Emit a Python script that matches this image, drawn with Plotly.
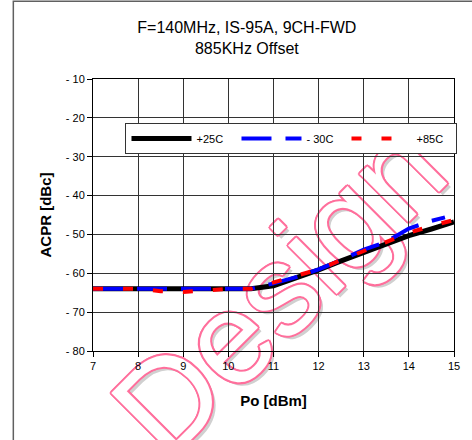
import plotly.graph_objects as go

# ---- data ----
po_dbm = [7, 7.5, 8, 8.5, 9, 9.5, 10, 10.5, 11, 11.5, 12, 12.5, 13, 13.5, 14, 14.5, 15]
acpr_p25 = [-64, -64, -64, -64, -64, -64, -64, -64, -63.2, -61.2, -59.1, -56.8, -54.6, -52.3, -50.3, -48.6, -46.8]

po_dbm_m30 = [7, 7.5, 8, 8.5, 9, 9.5, 10, 10.5, 11, 11.5, 12, 12.5, 13, 13.5, 14, 14.5, 14.8]
acpr_m30 = [-64, -64, -64, -64, -64, -64, -64, -64, -62.6, -61.0, -59.0, -56.6, -53.9, -51.9, -48.5, -46.5, -45.6]

acpr_p85 = [-64, -64, -64, -64.6, -64.8, -64.4, -64, -64, -62.4, -60.8, -59.0, -56.6, -54.2, -52.0, -49.6, -47.8, -46.3]

series_names = ["+25C", "- 30C", "+85C"]

x_ticks = [7, 8, 9, 10, 11, 12, 13, 14, 15]
y_ticks = [-80, -70, -60, -50, -40, -30, -20, -10]
y_ticktext = ["- 80", "- 70", "- 60", "- 50", "- 40", "- 30", "- 20", "- 10"]

title_text = "F=140MHz, IS-95A, 9CH-FWD<br>885KHz Offset"
x_title = "Po [dBm]"
y_title = "ACPR [dBc]"
watermark = "Design"

FONT = "Liberation Sans, Arial, sans-serif"

fig = go.Figure()
fig.add_trace(go.Scatter(x=po_dbm, y=acpr_p25, mode="lines", name=series_names[0],
                         line=dict(color="#000000", width=5)))
fig.add_trace(go.Scatter(x=po_dbm_m30, y=acpr_m30, mode="lines", name=series_names[1],
                         line=dict(color="#0000ff", width=4, dash="30px,14px")))
fig.add_trace(go.Scatter(x=po_dbm, y=acpr_p85, mode="lines", name=series_names[2],
                         line=dict(color="#ff0000", width=4, dash="10px,20px")))

pink = "#ff6f9c"
shadow = ", ".join([f"{pink} {dx}px {dy}px 0" for dx, dy in
                    [(2, 0), (-2, 0), (0, 2), (0, -2), (1.5, 1.5), (-1.5, 1.5), (1.5, -1.5), (-1.5, -1.5)]]
                   + ["#d0d0d0 0px 5px 0"])

# outer chart-area frame (Excel style)
fig.add_shape(type="rect", xref="paper", yref="paper",
              x0=-0.2207, x1=1.2, y0=-0.5, y1=1.286,
              line=dict(color="#606060", width=1.5), fillcolor="rgba(0,0,0,0)", layer="below")

# watermark
fig.add_shape(type="rect", xref="paper", yref="paper",
              x0=0.39, x1=0.59, y0=0.16, y1=0.36,
              line=dict(width=0), fillcolor="rgba(0,0,0,0)", layer="below",
              label=dict(text=watermark, textangle=-45, textposition="middle center",
                         font=dict(family="Liberation Sans, Arial", size=130,
                                   color="#ffffff", shadow=shadow)))

fig.update_layout(
    width=472, height=440,
    margin=dict(l=93, r=12, t=79, b=89),
    paper_bgcolor="white", plot_bgcolor="white",
    font=dict(family=FONT, color="black", size=11),
    title=dict(text=title_text, x=0.523, xref="container", xanchor="center",
               y=0.925, yref="container", yanchor="top",
               font=dict(family=FONT, size=16, color="black")),
    showlegend=True,
    legend=dict(orientation="h", x=0.09, y=0.838, xanchor="left", yanchor="top",
                bgcolor="white", bordercolor="#333333", borderwidth=1,
                font=dict(family=FONT, size=11, color="black"),
                itemwidth=60, entrywidth=35, entrywidthmode="pixels", tracegroupgap=0),
)
fig.update_xaxes(range=[7, 15], tickvals=x_ticks, ticks="outside", ticklen=5, tickcolor="black",
                 showline=True, linecolor="black", linewidth=1, mirror=True,
                 showgrid=True, gridcolor="#333333", gridwidth=1, zeroline=False,
                 tickfont=dict(family=FONT, size=11),
                 title=dict(text=f"<b>{x_title}</b>", font=dict(family=FONT, size=15), standoff=24))
fig.update_yaxes(range=[-80, -10], tickvals=y_ticks, ticktext=y_ticktext, ticks="outside", ticklen=5,
                 tickcolor="black", showline=True, linecolor="black", linewidth=1, mirror=True,
                 showgrid=True, gridcolor="#333333", gridwidth=1, zeroline=False,
                 tickfont=dict(family=FONT, size=11),
                 title=dict(text=f"<b>{y_title}</b>", font=dict(family=FONT, size=15), standoff=10))

fig.write_html("out.html")
